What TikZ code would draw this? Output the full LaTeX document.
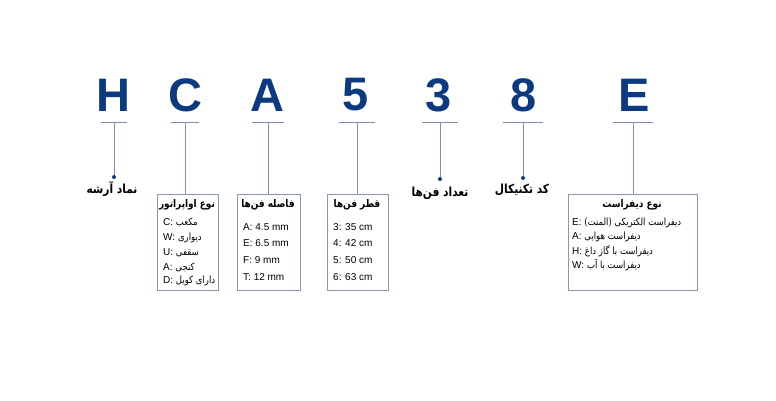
\documentclass[tikz,border=0pt]{standalone}
\usepackage{fontspec}
\setmainfont{Liberation Sans}
\newfontfamily\fa[Script=Arabic,FakeStretch=0.85]{DejaVu Sans}
\TeXXeTstate=1
\usetikzlibrary{positioning}
\definecolor{codeblue}{RGB}{12,58,128}
\definecolor{stemgray}{RGB}{125,144,176}
\definecolor{boxgray}{RGB}{136,152,180}
\newcommand{\fatext}[1]{{\fa\beginR #1\endR}}

\begin{document}
\begin{tikzpicture}[x=1pt,y=-1pt,
    letter/.style={font=\fontsize{47}{47}\selectfont\bfseries, text=codeblue, inner sep=0pt},
    bar/.style={draw=stemgray, line width=0.9pt},
    stem/.style={draw=stemgray, line width=0.9pt},
    dot/.style={circle, fill=codeblue, inner sep=0pt, minimum size=4pt},
    box/.style={draw=boxgray, line width=0.9pt, anchor=north west, inner sep=0pt},
    boxtitle/.style={font=\fontsize{10.5}{11}\fa\bfseries, inner sep=0pt},
    row/.style={font=\fontsize{10}{10}\selectfont, anchor=west, inner sep=0pt},
    caption/.style={font=\fontsize{12.5}{13}\fa\bfseries, inner sep=0pt}]
    \useasboundingbox (0,0) rectangle (776,400);

    % code letters
    \node[letter] (H) at (113,95) {H};
    \node[letter] (C) at (185,95) {C};
    \node[letter] (A) at (267,95) {A};
    \node[letter] (five) at (356,95) {5};
    \node[letter] (three) at (439,95) {3};
    \node[letter] (eight) at (524,95) {8};
    \node[letter] (E) at (634,95) {E};

    % short bars under the letters
    \coordinate (Hbar) at (114,122);
    \coordinate (Cbar) at (185,122);
    \coordinate (Abar) at (268,122);
    \coordinate (fivebar) at (357,122);
    \coordinate (threebar) at (440,122);
    \coordinate (eightbar) at (523,122);
    \coordinate (Ebar) at (633,122);
    \draw[bar] ([xshift=-13pt]Hbar) -- ([xshift=13pt]Hbar);
    \draw[bar] ([xshift=-14pt]Cbar) -- ([xshift=14pt]Cbar);
    \draw[bar] ([xshift=-16pt]Abar) -- ([xshift=16pt]Abar);
    \draw[bar] ([xshift=-18pt]fivebar) -- ([xshift=18pt]fivebar);
    \draw[bar] ([xshift=-18pt]threebar) -- ([xshift=18pt]threebar);
    \draw[bar] ([xshift=-20pt]eightbar) -- ([xshift=20pt]eightbar);
    \draw[bar] ([xshift=-20pt]Ebar) -- ([xshift=20pt]Ebar);

    % boxes
    \node[box, minimum width=61pt, minimum height=96pt] (Cbox) at (157,194) {};
    \node[box, minimum width=63pt, minimum height=96pt] (Abox) at (237,194) {};
    \node[box, minimum width=61pt, minimum height=96pt] (fivebox) at (327,194) {};
    \node[box, minimum width=129pt, minimum height=96pt] (Ebox) at (568,194) {};

    % dots and captions
    \node[dot] (Hdot) at (114,177) {};
    \node[dot] (threedot) at (440,179) {};
    \node[dot] (eightdot) at (523,178) {};
    \node[caption] (Hcap) at (112,189) {\fatext{نماد آرشه}};
    \node[caption] (threecap) at (440,193) {\fatext{تعداد فن‌ها}};
    \node[caption] (eightcap) at (522,190) {\fatext{کد تکنیکال}};

    % stems
    \draw[stem] (Hbar) -- (Hdot);
    \draw[stem] (Cbar) -- (Cbar |- Cbox.north);
    \draw[stem] (Abar) -- (Abar |- Abox.north);
    \draw[stem] (fivebar) -- (fivebar |- fivebox.north);
    \draw[stem] (threebar) -- (threedot);
    \draw[stem] (eightbar) -- (eightdot);
    \draw[stem] (Ebar) -- (Ebar |- Ebox.north);

    % evaporator type
    \node[boxtitle] (Ctitle) at (187,205) {\fatext{نوع اواپراتور}};
    \node[row] (Crow1) at (163,223) {C: \fatext{مکعب}};
    \node[row] (Crow2) at (163,238) {W: \fatext{دیواری}};
    \node[row] (Crow3) at (163,253) {U: \fatext{سقفی}};
    \node[row] (Crow4) at (163,267) {A: \fatext{کنجی}};
    \node[row] (Crow5) at (163,281) {D: \fatext{دارای کویل}};

    % fin spacing
    \node[boxtitle] (Atitle) at (268,205) {\fatext{فاصله فن‌ها}};
    \node[row] (Arow1) at (243,227) {A: 4.5 mm};
    \node[row] (Arow2) at (243,243) {E: 6.5 mm};
    \node[row] (Arow3) at (243,260) {F: 9 mm};
    \node[row] (Arow4) at (243,277) {T: 12 mm};

    % fan diameter
    \node[boxtitle] (fivetitle) at (357,205) {\fatext{قطر فن‌ها}};
    \node[row] (fiverow1) at (333,227) {3: 35 cm};
    \node[row] (fiverow2) at (333,243) {4: 42 cm};
    \node[row] (fiverow3) at (333,260) {5: 50 cm};
    \node[row] (fiverow4) at (333,277) {6: 63 cm};

    % defrost type
    \node[boxtitle] (Etitle) at (632,205) {\fatext{نوع دیفراست}};
    \node[row] (Erow1) at (572,223) {E: \fatext{دیفراست الکتریکی (المنت)}};
    \node[row] (Erow2) at (572,237) {A: \fatext{دیفراست هوایی}};
    \node[row] (Erow3) at (572,251) {H: \fatext{دیفراست با گاز داغ}};
    \node[row] (Erow4) at (572,265) {W: \fatext{دیفراست با آب}};
  \end{tikzpicture}
\end{document}
